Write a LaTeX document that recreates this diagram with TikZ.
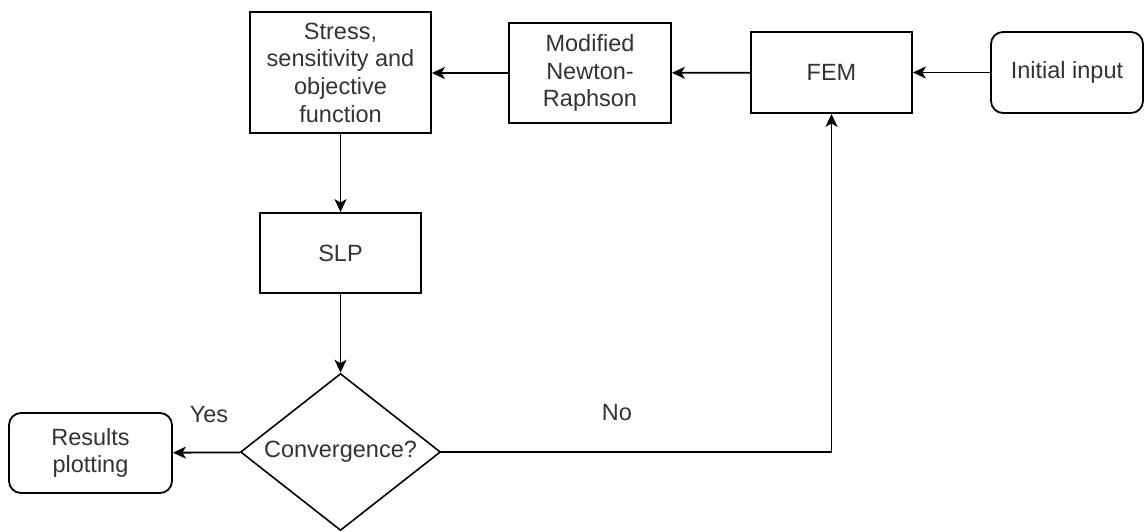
\documentclass[tikz,border=0pt]{standalone}
\usepackage{fontspec}
\setmainfont{Liberation Sans}
\usepackage{tikz}
\usetikzlibrary{arrows.meta,shapes.geometric}
\definecolor{txtgray}{HTML}{333333}

\begin{document}
\begin{tikzpicture}[x=1pt,y=-1pt,
    every node/.style={font=\fontsize{23.5}{27.7}\selectfont,text=txtgray},
    blockbox/.style={draw=black,line width=1.8pt,inner sep=0pt,align=center},
    roundbox/.style={blockbox,rounded corners=12pt},
    decbox/.style={draw=black,line width=1.6pt,diamond,aspect=1.27,inner sep=0pt,
        minimum width=200pt,minimum height=157pt},
    flow/.style={line width=1.8pt,-{Stealth[length=13pt,width=12pt,inset=3.5pt]}}]
                \useasboundingbox (0,0) rectangle (1145,532);

                % Boxes
                \node[blockbox,minimum width=181pt,minimum height=121pt] (stress) at (340.5,72.5)
                    {Stress,\\sensitivity and\\objective\\function};
                \node[blockbox,minimum width=162pt,minimum height=100pt] (newton) at (590,73)
                    {Modified\\Newton-\\Raphson};
                \node[blockbox,minimum width=161pt,minimum height=81pt] (fem) at (831.5,72.5) {FEM};
                \node[roundbox,minimum width=152pt,minimum height=81pt] (init) at (1067,72.5) {Initial input};
                \node[blockbox,minimum width=161pt,minimum height=80pt] (slp) at (340.5,253) {SLP};
                \node[decbox] (conv) at (340.5,452) {Convergence?};
                \node[roundbox,minimum width=163pt,minimum height=80pt] (result) at (90.5,453)
                    {Results\\plotting};

                % Labels
                \node (yes) at (209,415) {Yes};
                \node (no) at (617,413) {No};

                % Connectors
                \draw[flow] (init) -- (fem);
                \draw[flow] (fem) -- (newton);
                \draw[flow] (newton) -- (stress.east |- newton.west);
                \draw[flow] (stress) -- (slp);
                \draw[flow] (slp) -- (conv);
                \draw[flow] (conv) -- (result);
                \draw[flow] (conv.east) -| (fem.south);
            \end{tikzpicture}
\end{document}
